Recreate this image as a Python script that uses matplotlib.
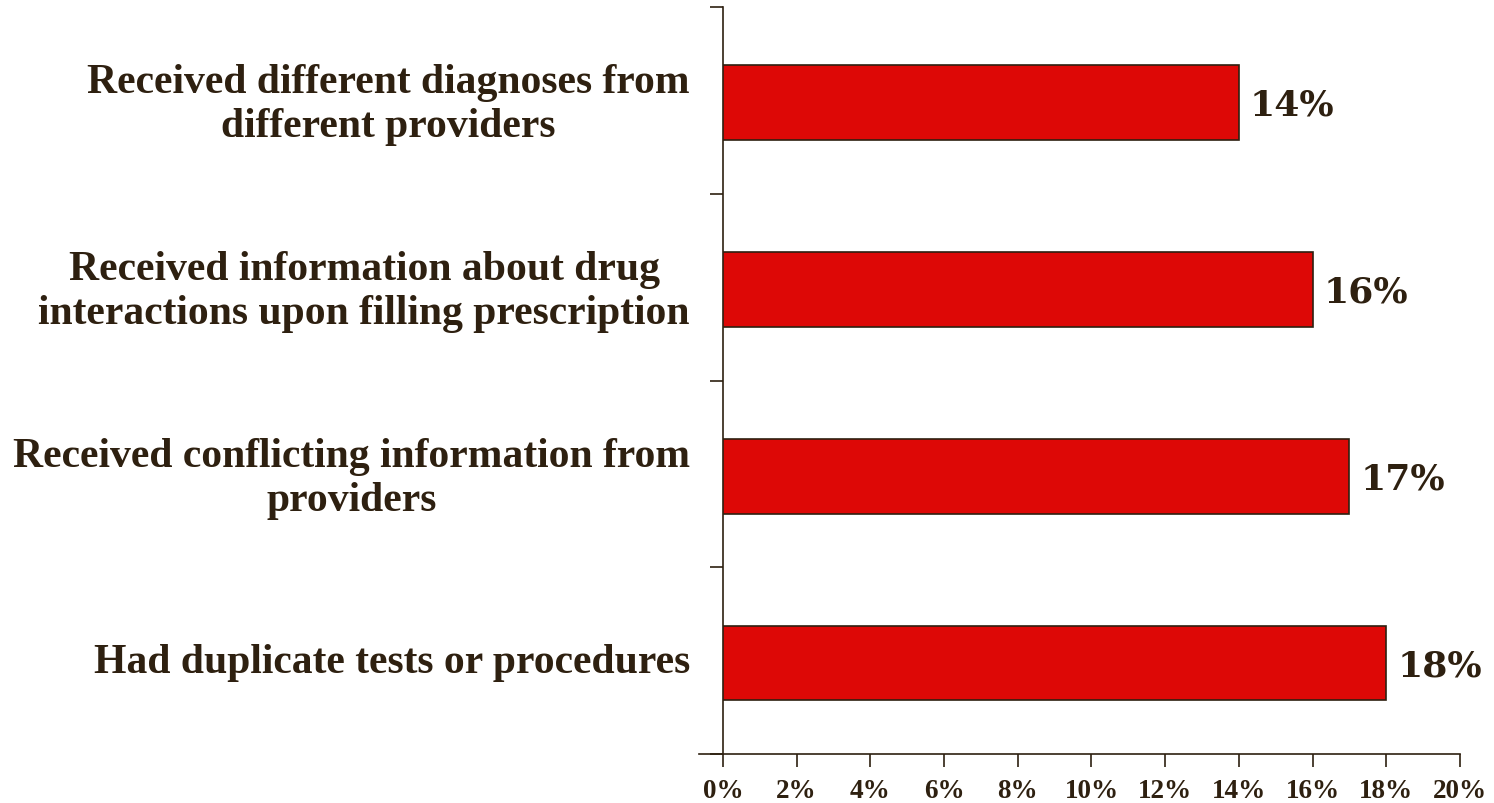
import matplotlib.pyplot as plt
import matplotlib.transforms as mtransforms
import numpy as np

# categories, top to bottom
categories = [
    "Received different diagnoses from\ndifferent providers",
    "Received information about drug\ninteractions upon filling prescription",
    "Received conflicting information from\nproviders",
    "Had duplicate tests or procedures",
]
values = [14, 16, 17, 18]
xticks = [0, 2, 4, 6, 8, 10, 12, 14, 16, 18, 20]

txt = '#2E2010'
red = '#DD0806'

fig = plt.figure(figsize=(14.94, 8.04), dpi=100)
ax = fig.add_axes([0.4839, 0.0609, 0.4933, 0.9291])

y = np.arange(len(categories))
ax.barh(y + 0.012, values, height=0.4, color=red, edgecolor=txt, linewidth=1.2, zorder=3)

for yi, v in zip(y, values):
    ax.annotate(f"{v}%", (v, yi + 0.012), xytext=(8, 1), textcoords='offset points',
                ha='left', va='center_baseline', fontsize=26, fontweight='bold',
                family='DejaVu Serif', color=txt)

ax.set_xlim(0, 20)
ax.set_ylim(3.5, -0.5)

ax.set_yticks(y)
ax.set_yticklabels(categories, fontsize=30, fontweight='bold',
                   family='Liberation Serif', color=txt)
ax.set_yticks(np.arange(-0.5, 4, 1), minor=True)
ax.tick_params(axis='y', which='major', length=0)
ax.tick_params(axis='y', which='minor', length=9.4, width=1.2, color=txt, direction='out')

ax.set_xticks(xticks)
ax.set_xticklabels([f"{t}%" for t in xticks], fontsize=19.5, fontweight='bold',
                   family='Liberation Serif', color=txt)
ax.tick_params(axis='x', length=9.4, width=1.2, color=txt, direction='out', pad=7.5)

for s in ['top', 'right']:
    ax.spines[s].set_visible(False)
for s in ['left', 'bottom']:
    ax.spines[s].set_color(txt)
    ax.spines[s].set_linewidth(1.2)
ax.spines['bottom'].set_bounds(-0.65, 20)

# centre each multi-line label on itself, right edge ~33 px left of the axis
fig.canvas.draw()
r = fig.canvas.get_renderer()
trans = mtransforms.blended_transform_factory(ax.transAxes, ax.transData) + \
    mtransforms.ScaledTranslation(0, 2.5 / 72, fig.dpi_scale_trans)
ax_left = ax.transAxes.transform((0, 0))[0]
for lab in ax.get_yticklabels():
    bb = lab.get_window_extent(r)
    x_px = ax_left - 33 - bb.width / 2
    lab.set_horizontalalignment('center')
    lab.set_multialignment('center')
    lab.set_transform(trans)
    lab.set_x(ax.transAxes.inverted().transform((x_px, 0))[0])

fig.savefig('out.png', dpi=100)
